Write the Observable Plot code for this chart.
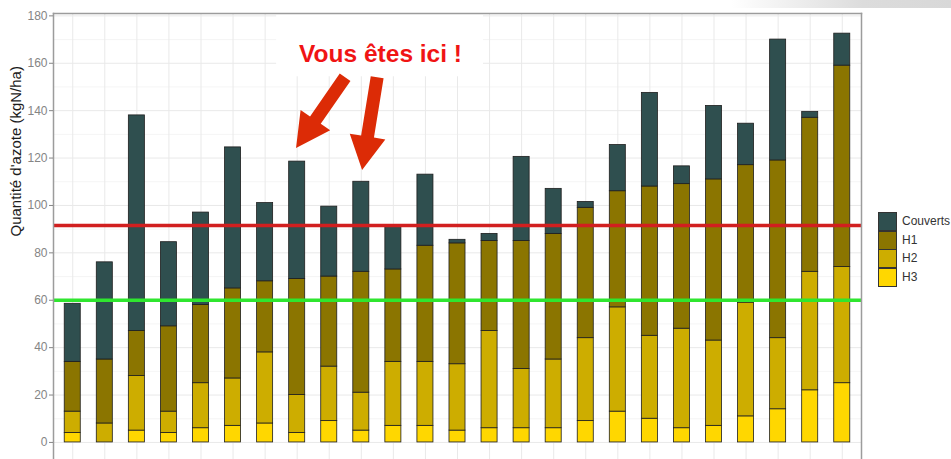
<!DOCTYPE html>
<html><head><meta charset="utf-8">
<script src="https://cdn.jsdelivr.net/npm/d3@7"></script>
<script src="https://cdn.jsdelivr.net/npm/@observablehq/plot@0.6"></script>
<style>
body{margin:0;background:#fff;}
#wrap{position:relative;width:951px;height:459px;overflow:hidden;font-family:"Liberation Sans",Arial,sans-serif;}
#shadow{position:absolute;top:0;right:0;width:220px;height:8px;background:linear-gradient(to right,rgba(225,225,225,0),#dcdcdc 60%,#d8d8d8);}
#legend{position:absolute;left:878px;top:212px;}
.row{position:relative;height:18.5px;}
.sw{position:absolute;left:0;top:0;width:19px;height:19px;box-sizing:border-box;border:1px solid #333;}
.lb{position:absolute;left:24px;top:2px;font-size:12px;color:#333;white-space:nowrap;line-height:15px;}
</style></head><body><div id="wrap"><div id="shadow"></div></div>
<script>
// ---- data ----
const sites = d3.range(1, 26);
const H3 = [4,0,5,4,6,7,8,4,9,5,7,7,5,6,6,6,9,13,10,6,7,11,14,22,25];
const H2 = [9,8,23,9,19,20,30,16,23,16,27,27,28,41,25,29,35,44,35,42,36,48,30,50,49];
const H1 = [21,27,19,36,33,38,30,49,38,51,39,49,51,38,54,53,55,49,63,61,68,58,75,65,85];
const Couverts = [24.5,41,91,35.5,39,59.5,33,49.5,29.5,38,18,30,1.5,3,35.5,19,2.5,19.5,39.5,7.5,31,17.5,51,2.5,13.5];
const seriesNames = ["H3","H2","H1","Couverts"];
const seriesColors = ["#FFD700","#CDAD00","#8B7500","#2F4F4F"];
const legendOrder = ["Couverts","H1","H2","H3"];
const yTicks = d3.range(0, 181, 20);
const yMinor = d3.range(10, 180, 20);
const redLevel = 91.5;
const greenLevel = 60;
const yLabel = "Quantité d'azote (kgN/ha)";
const note = [{text: "Vous êtes ici !", x: 10.6, y: 160.6}];
const noteBox = [{x1: 7.36, x2: 13.81, y1: 154.3, y2: 181}];
const arrows = [
  {x1: 9.51, y1: 153.9, x2: 7.98, y2: 124.0},
  {x1: 10.51, y1: 153.9, x2: 10.04, y2: 114.7}
];

// ---- build stacked segments ----
const valuesBy = {H3, H2, H1, Couverts};
const segments = [];
sites.forEach((s, i) => {
  let base = 0;
  seriesNames.forEach((name, k) => {
    const v = valuesBy[name][i];
    segments.push({site: s, series: name, y1: base, y2: base + v, color: seriesColors[k]});
    base += v;
  });
});

const font = "Liberation Sans, Arial, sans-serif";
const plot = Plot.plot({
  width: 951, height: 459,
  marginLeft: 53, marginRight: 90, marginTop: 13, marginBottom: 0,
  style: {fontFamily: font, background: "transparent", overflow: "visible"},
  x: {domain: [0.4, 25.6], axis: null},
  y: {domain: [-7.2, 181], axis: null},
  color: {type: "identity"},
  marks: [
    Plot.ruleY(yMinor, {stroke: "#f3f3f3", strokeWidth: 0.8}),
    Plot.ruleY(yTicks, {stroke: "#e9e9e9", strokeWidth: 1}),
    Plot.ruleX(sites, {stroke: "#e9e9e9", strokeWidth: 1}),
    Plot.rect(noteBox, {x1: "x1", x2: "x2", y1: "y1", y2: "y2", fill: "white"}),
    Plot.rect(segments, {x1: d => d.site - 0.25, x2: d => d.site + 0.25, y1: "y1", y2: "y2", fill: "color", stroke: "#1e1e1e", strokeWidth: 0.8}),
    Plot.ruleY([redLevel], {stroke: "#d11f1f", strokeWidth: 3.5}),
    Plot.ruleY([greenLevel], {stroke: "#2fe62f", strokeWidth: 3.5}),
    Plot.frame({anchor: "top", stroke: "#9c9c9c", strokeWidth: 1.5}),
    Plot.frame({anchor: "right", stroke: "#9c9c9c", strokeWidth: 1.5}),
    Plot.frame({anchor: "left", stroke: "#9c9c9c", strokeWidth: 1.5}),
    Plot.axisY({ticks: yTicks, tickSize: 4, tickPadding: 2, fontSize: 12, color: "#858585", label: null}),
    Plot.text([yLabel], {frameAnchor: "left", dx: -37, rotate: -90, fontSize: 15, fill: "#1c1c1c"}),
    Plot.text(note, {x: "x", y: "y", text: "text", fill: "#f01414", fontSize: 24.5, fontWeight: "bold", textAnchor: "middle", lineAnchor: "bottom"})
  ]
});

// block arrows (annotation) positioned through the plot's scales
const xs = plot.scale("x"), ys = plot.scale("y");
const g = d3.select(plot).append("g");
arrows.forEach(a => {
  const T = [xs.apply(a.x1), ys.apply(a.y1)], P = [xs.apply(a.x2), ys.apply(a.y2)];
  const L = Math.hypot(P[0]-T[0], P[1]-T[1]);
  const u = [(P[0]-T[0])/L, (P[1]-T[1])/L], n = [-u[1], u[0]];
  const sw = 13, hw = 36, hl = 34;
  const B = [P[0]-u[0]*hl, P[1]-u[1]*hl];
  const pt = (p, k) => [p[0] + n[0]*k, p[1] + n[1]*k];
  const pts = [pt(T, sw/2), pt(B, sw/2), pt(B, hw/2), P, pt(B, -hw/2), pt(B, -sw/2), pt(T, -sw/2)];
  g.append("polygon").attr("points", pts.map(p => p.join(",")).join(" ")).attr("fill", "#dc2b06");
});

const wrap = document.getElementById("wrap");
wrap.insertBefore(plot, wrap.firstChild);

// legend
const leg = document.createElement("div");
leg.id = "legend";
legendOrder.forEach(name => {
  const row = document.createElement("div"); row.className = "row";
  const sw = document.createElement("div"); sw.className = "sw";
  sw.style.background = seriesColors[seriesNames.indexOf(name)];
  const lb = document.createElement("div"); lb.className = "lb"; lb.textContent = name;
  row.appendChild(sw); row.appendChild(lb); leg.appendChild(row);
});
wrap.appendChild(leg);
</script>
</body></html>
